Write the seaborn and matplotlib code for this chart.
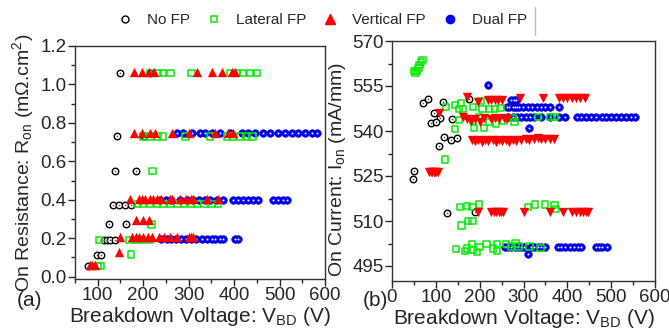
import numpy as np
import pandas as pd
import matplotlib
matplotlib.use("Agg")
import matplotlib.pyplot as plt
from matplotlib.lines import Line2D
from matplotlib.ticker import MultipleLocator, AutoMinorLocator
import seaborn as sns

# ---------------- (a) On resistance vs breakdown voltage ----------------
a_nofp_v = [150, 216, 143, 201, 137, 185, 133, 146, 161, 174, 124, 163, 113, 121, 128, 137, 98, 107, 78]
a_nofp_r = [1.06, 1.06, 0.73, 0.73, 0.55, 0.55, 0.375, 0.375, 0.375, 0.375, 0.275, 0.275,
            0.19, 0.19, 0.19, 0.19, 0.115, 0.115, 0.057]

a_lat_v = [216, 231, 244, 260, 306, 391, 406, 420, 435, 450,
           201, 216, 231, 244, 293, 347, 384, 398, 413, 428, 441,
           220,
           188, 200, 215, 230, 245, 260, 275, 290, 305, 320, 335, 350, 365,
           218,
           103, 170, 185, 200, 215,
           173,
           100, 106]
a_lat_r = [1.06] * 10 + [0.728] * 11 + [0.55] + [0.377] * 13 + [0.272] + [0.19] * 5 + [0.115] + [0.055] * 2

a_ver_v = [179, 198, 212, 223, 319, 352, 373, 396, 402,
           179, 198, 214, 225, 264, 301, 358, 387, 398,
           170, 190, 198, 205, 215, 222, 230, 240, 258, 263, 280, 295, 305, 310, 340, 365,
           185, 200, 212,
           150, 175, 185, 190, 200, 210, 220, 235, 245, 260, 275, 300, 305, 310,
           147,
           82, 88, 95]
a_ver_r = [1.063] * 9 + [0.745] * 9 + [0.403] * 16 + [0.293] * 3 + [0.204] * 14 + [0.126] + [0.06] * 3

a_dual_v = [274, 288, 307, 325, 336, 351, 369, 391, 417, 431, 446, 464, 479, 497, 512, 527, 541, 556, 571, 582,
            237, 250, 262, 281, 296, 310, 322, 335, 347, 362, 376, 398, 409, 420, 431, 442, 453, 486, 497, 508, 517,
            240, 252, 262, 272, 283, 294, 305, 316, 329, 340, 351, 358, 369, 376, 403, 408]
a_dual_r = [0.745] * 20 + [0.398] * 21 + [0.194] * 16

# ---------------- (b) On current vs breakdown voltage ----------------
b_nofp_v = [71, 81, 117, 176, 96, 109, 89, 100, 137, 118, 134, 148, 107, 50, 48, 125, 189]
b_nofp_i = [549.3, 550.7, 549.7, 550.7, 546, 544.3, 542.7, 543, 544, 538, 537, 537.7, 535,
            526.7, 524, 512.7, 513]

b_lat_v = [50, 54, 57, 60, 63, 66, 69,
           123, 144, 157, 153, 162, 185, 202, 207, 221, 235, 248, 153, 185, 198, 223, 237, 253, 276,
           280, 144, 187, 210, 333, 362, 371, 121,
           155, 171, 184, 198, 310, 326, 349, 371, 373, 159, 173, 184,
           146, 166, 171, 182, 184, 194, 200, 216, 230, 239, 239, 260, 271, 282, 289, 314, 339]
b_lat_i = [560, 559.3, 560, 561, 562, 563, 563.7,
           548, 548.7, 549.3, 547.3, 547.3, 548, 550, 547.3, 547.3, 547.3, 547.7, 543.7, 543.3, 544.7,
           543, 542.3, 543.3, 544.3, 543, 540.7, 541, 541, 544.7, 544.7, 544.7, 530.5,
           514.7, 515, 514.7, 515.5, 514.7, 515.5, 515.5, 515.3, 514, 508.5, 510, 510,
           500.7, 500, 500.8, 502.3, 500.3, 499.7, 501.3, 502.3, 500.8, 500, 502.3, 502.3, 501.5,
           502.5, 501.5, 501.5, 501]

b_ver_v = [85, 88, 92, 95, 98, 101, 104,
           197, 225, 232, 238, 243, 248, 253, 300, 360, 390, 410, 420, 428, 435, 442, 448,
           183, 190, 197, 205, 212, 220, 230, 237, 243, 250, 260, 268, 275, 282, 295, 305, 312,
           325, 332, 340, 350, 360, 370,
           107, 162, 170, 180, 190, 200, 210, 225, 235, 245, 255, 262,
           170, 196, 218, 226, 234, 242, 250, 292, 344, 380, 390, 400, 410, 420, 430, 440]
b_ver_i = [526.3] * 7 + [513] * 16 + [537, 536.7, 537, 536.5, 537, 536.7, 537, 536.5, 537, 536.7,
                                      537, 536.5, 537, 536.7, 537, 537.3, 537, 537.5, 537.7, 537.5,
                                      537.3, 537.5, 537.3] + \
          [546, 544.7, 544, 543.5, 544, 543, 544.5, 544, 544.5, 544, 544.5, 544] + \
          [551.3, 549.7, 550.3, 550.3, 550.3, 550.3, 550.3, 551, 551, 551, 551, 551, 551, 551, 551, 551]

b_dual_v = [219,
            262, 268, 275, 280, 285, 290, 298, 310, 320, 330, 340, 350, 360, 380,
            272, 278, 284,
            265, 275, 285, 295, 305, 315, 325, 340, 360, 380, 395, 421, 432, 443, 455, 466, 478, 489,
            500, 512, 523, 534, 545, 555,
            312,
            257, 265, 272, 280, 287, 295, 300, 318, 325, 333, 340, 350, 378, 385, 395, 405, 415, 425,
            432, 465, 472, 480, 490, 310]
b_dual_i = [555.3] + [548] * 14 + [550.5] * 3 + [544.7] * 24 + [541] + [501.3] * 23 + [499]

labels = ["No FP", "Lateral FP", "Vertical FP", "Dual FP"]

sns.set_style("ticks")
plt.rcParams['font.family'] = ['Liberation Sans', 'DejaVu Sans']
plt.rcParams['mathtext.default'] = 'regular'

W, H = 669, 328
fig = plt.figure(figsize=(W / 100, H / 100), dpi=100)
ax1 = fig.add_axes([75 / W, 1 - 279 / H, 250 / W, 233 / H])
ax2 = fig.add_axes([392 / W, 1 - 281 / H, 263 / W, 240 / H])

green = '#00ee00'
blue = '#0000ff'


def draw(ax, nofp, lat, ver, dual, ver_marker):
    sns.scatterplot(x=nofp[0], y=nofp[1], ax=ax, marker='o', s=22, facecolor='white',
                    edgecolor='black', linewidth=1.0, zorder=3)
    sns.scatterplot(x=nofp[0], y=nofp[1], ax=ax, marker='o', s=1.5, color='#555555',
                    linewidth=0, zorder=4)
    sns.scatterplot(x=lat[0], y=lat[1], ax=ax, marker='s', s=22, facecolor='none',
                    edgecolor=green, linewidth=1.1, zorder=3)
    sns.scatterplot(x=ver[0], y=ver[1], ax=ax, marker=ver_marker, s=45, color='#ff0000',
                    linewidth=0, zorder=3)
    sns.scatterplot(x=dual[0], y=dual[1], ax=ax, marker='o', s=30, color=blue,
                    edgecolor='#0000aa', linewidth=0.4, zorder=2)
    sns.scatterplot(x=dual[0], y=dual[1], ax=ax, marker='o', s=2, color='white',
                    linewidth=0, zorder=2.5)


draw(ax1, (a_nofp_v, a_nofp_r), (a_lat_v, a_lat_r), (a_ver_v, a_ver_r), (a_dual_v, a_dual_r), '^')
draw(ax2, (b_nofp_v, b_nofp_i), (b_lat_v, b_lat_i), (b_ver_v, b_ver_i), (b_dual_v, b_dual_i), 'v')

ax1.set_xlim(50, 600)
ax1.set_ylim(-0.012, 1.2)
ax1.xaxis.set_major_locator(MultipleLocator(100))
ax1.yaxis.set_major_locator(MultipleLocator(0.2))
ax1.yaxis.set_major_formatter(matplotlib.ticker.FormatStrFormatter('%.1f'))
ax1.set_xlabel('Breakdown Voltage: V$_{BD}$ (V)', fontsize=15, labelpad=0.5)
ax1.set_ylabel('On Resistance: R$_{on}$ (mΩ.cm$^2$)', fontsize=14, labelpad=3)

ax2.set_xlim(0, 600)
ax2.set_ylim(490, 570)
ax2.set_yticks([495, 510, 525, 540, 555, 570])
ax2.xaxis.set_major_locator(MultipleLocator(100))
ax2.set_xlabel('Breakdown Voltage: V$_{BD}$ (V)', fontsize=15, labelpad=0.5)
ax2.set_ylabel('On Current: I$_{on}$ (mA/mm)', fontsize=14, labelpad=3)
ax2.yaxis.label.set_y(0.465)

for ax in (ax1, ax2):
    ax.xaxis.set_minor_locator(AutoMinorLocator(2))
    ax.yaxis.set_minor_locator(AutoMinorLocator(2))
    ax.tick_params(which='major', direction='out', length=5, width=1, labelsize=13.5, pad=1)
    ax.tick_params(which='minor', direction='out', length=3, width=1)
    for sp in ax.spines.values():
        sp.set_visible(True)
        sp.set_linewidth(1.0)
        sp.set_color('#333333')

fig.text(17 / W, 1 - 301 / H, '(a)', fontsize=15, va='center', ha='left')
fig.text(363 / W, 1 - 301 / H, '(b)', fontsize=15, va='center', ha='left')

handles = [
    Line2D([], [], marker='o', ls='', markersize=5, markerfacecolor='white', markeredgecolor='black',
           markeredgewidth=1.0),
    Line2D([], [], marker='s', ls='', markersize=5, markerfacecolor='none', markeredgecolor=green,
           markeredgewidth=1.1),
    Line2D([], [], marker='^', ls='', markersize=7, color='#ff0000'),
    Line2D([], [], marker='o', ls='', markersize=6, color=blue),
]
fig.legend(handles, labels, loc='center left', bbox_to_anchor=(117.4 / W, 1 - 20 / H), ncol=4,
           frameon=False, fontsize=11, handlelength=1.0, handletextpad=0.94, columnspacing=1.07,
           borderpad=0, borderaxespad=0)
fig.add_artist(Line2D([535 / W, 535 / W], [1 - 7 / H, 1 - 35 / H], color='#bbbbbb', lw=1,
                      transform=fig.transFigure))

fig.savefig('out.png', dpi=100)
